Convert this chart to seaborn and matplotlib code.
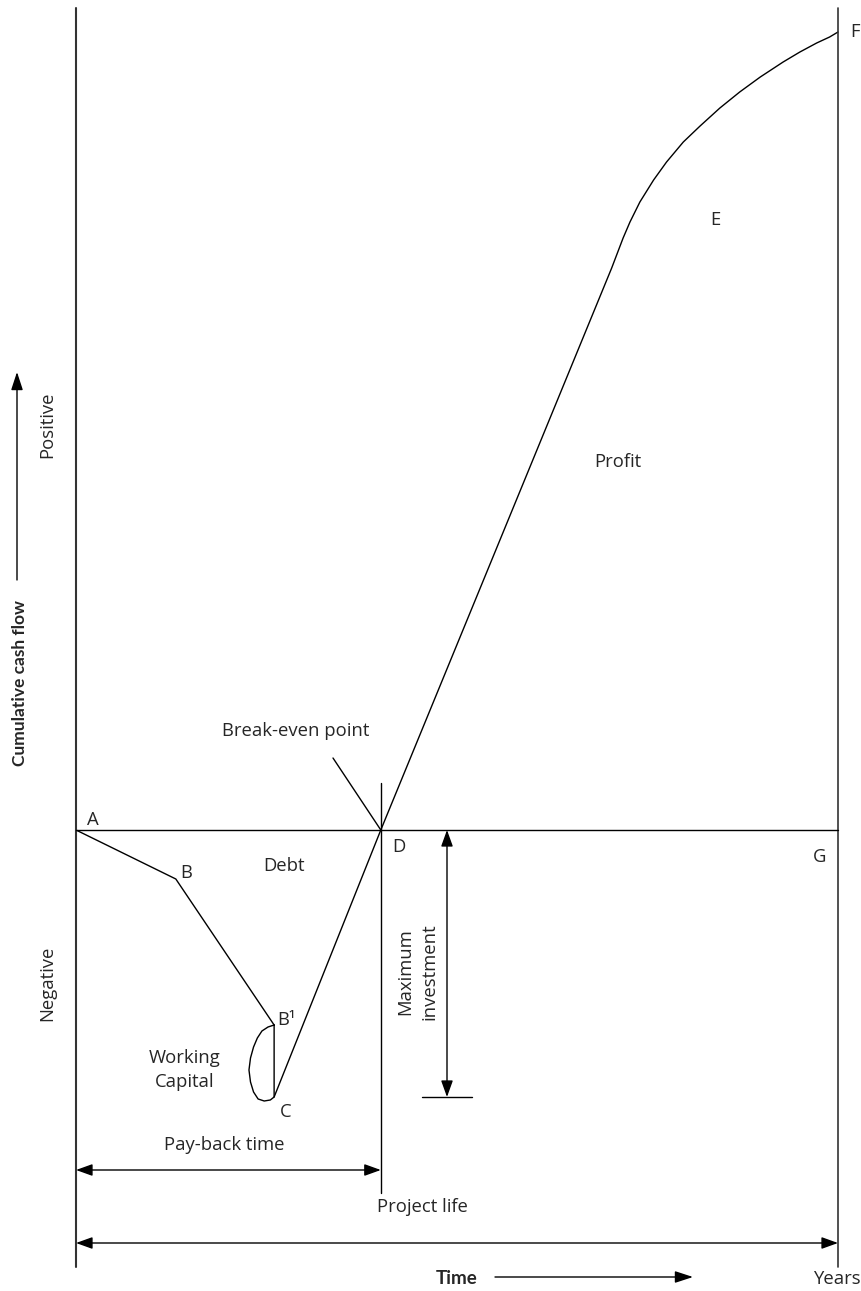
import numpy as np
import pandas as pd
import matplotlib
matplotlib.use("Agg")
import matplotlib.pyplot as plt
import seaborn as sns

# 累计现金流示意图的数据（时间：年，现金：任意单位）
debt_time = [0.0, 1.31, 2.60]
debt_cash = [0.0, -4.9, -19.5]

wc_time = [2.60, 2.52, 2.44, 2.38, 2.33, 2.29, 2.27, 2.29, 2.33, 2.39, 2.47, 2.55, 2.60, 2.60]
wc_cash = [-19.5, -19.7, -20.1, -20.8, -21.7, -22.8, -24.0, -25.2, -26.2, -26.9, -27.1, -27.0, -26.7, -19.5]

profit_time = [2.60, 4.00, 7.03, 7.10, 7.15, 7.18, 7.27, 7.40, 7.58, 7.75, 7.97,
               8.19, 8.45, 8.71, 8.98, 9.28, 9.50, 9.72, 9.89, 10.0]
profit_cash = [-26.7, 0.0, 56.2, 57.6, 58.6, 59.2, 60.8, 62.8, 65.0, 66.8, 68.8,
               70.4, 72.2, 73.8, 75.3, 76.8, 77.8, 78.7, 79.3, 79.8]

project_end = 10.0
breakeven_time = 4.00
max_investment = -26.7

sns.set_style("white")
plt.rcParams['font.family'] = ['Open Sans', 'DejaVu Sans']

# 像素位置 -> 数据坐标（仅用于排版）
def tx(px):
    return (px - 76) / 76.2

def cy(py):
    return (830 - py) / 10.0

fig = plt.figure(figsize=(8.62, 12.91), dpi=100)
ax = fig.add_axes([0, 0, 1, 1])
ax.set_xlim(tx(0), tx(862))
ax.set_ylim(cy(1291), cy(0))
ax.axis('off')

lc = 'black'
lw = 1.0

# 曲线
df1 = pd.DataFrame({"t": debt_time, "c": debt_cash})
df2 = pd.DataFrame({"t": wc_time, "c": wc_cash})
df3 = pd.DataFrame({"t": profit_time, "c": profit_cash})
for d in (df1, df2, df3):
    sns.lineplot(data=d, x="t", y="c", sort=False, estimator=None,
                 color=lc, lw=lw, ax=ax)

# 坐标框线
ax.plot([0, 0], [cy(8), cy(1267)], color='#333333', lw=1.5)
ax.plot([project_end, project_end], [cy(8), cy(1267)], color='#333333', lw=1.2)
ax.plot([0, project_end], [0, 0], color=lc, lw=lw)

# 投资回收期竖线与盈亏平衡点指示
ax.plot([breakeven_time, breakeven_time], [cy(783), cy(1193)], color=lc, lw=lw)
ax.plot([tx(333), breakeven_time], [cy(758), 0], color=lc, lw=lw)

# 最大投资
ax.plot([tx(422), tx(472)], [max_investment, max_investment], color=lc, lw=lw)
arrow2 = dict(arrowstyle='<|-|>,head_length=1.0,head_width=0.36',
              mutation_scale=10, color=lc, lw=lw, shrinkA=0, shrinkB=0)
arrow1 = dict(arrowstyle='-|>,head_length=1.1,head_width=0.36',
              mutation_scale=10, color=lc, lw=lw, shrinkA=0, shrinkB=0)
ax.annotate('', xy=(tx(447), 0), xytext=(tx(447), max_investment), arrowprops=arrow2)
ax.annotate('', xy=(0, cy(1170)), xytext=(breakeven_time, cy(1170)), arrowprops=arrow2)
ax.annotate('', xy=(0, cy(1243)), xytext=(project_end, cy(1243)), arrowprops=arrow2)
ax.annotate('', xy=(tx(693), cy(1277)), xytext=(tx(495), cy(1277)), arrowprops=arrow1)
ax.annotate('', xy=(tx(17), cy(372)), xytext=(tx(17), cy(580)), arrowprops=arrow1)

fs = 13.3
def label(px, py, s, size=fs, **kw):
    ax.text(tx(px), cy(py), s, ha='center', va='center', fontsize=size, **kw)

bold = dict(fontweight='bold', family=['Lato', 'DejaVu Sans'])
label(20, 683, 'Cumulative cash flow', size=12.5, rotation=90, **bold)
label(47, 425, 'Positive', rotation=90)
label(47, 983, 'Negative', rotation=90)
label(93, 820, 'A')
label(186, 873, 'B')
label(286, 1020, 'B¹')
label(286, 1112, 'C')
label(399, 847, 'D')
label(715, 220, 'E')
label(855, 32, 'F')
label(820, 857, 'G')
label(284, 866, 'Debt')
label(618, 462, 'Profit')
label(185, 1058, 'Working')
label(185, 1082, 'Capital')
label(296, 731, 'Break-even point')
label(405, 972, 'Maximum', rotation=90)
label(430, 972, 'investment', rotation=90)
label(224, 1145, 'Pay-back time')
label(422, 1207, 'Project life')
label(457, 1279, 'Time', size=13.5, **bold)
label(837, 1279, 'Years')

fig.savefig('out.png', dpi=100)
plt.close(fig)
